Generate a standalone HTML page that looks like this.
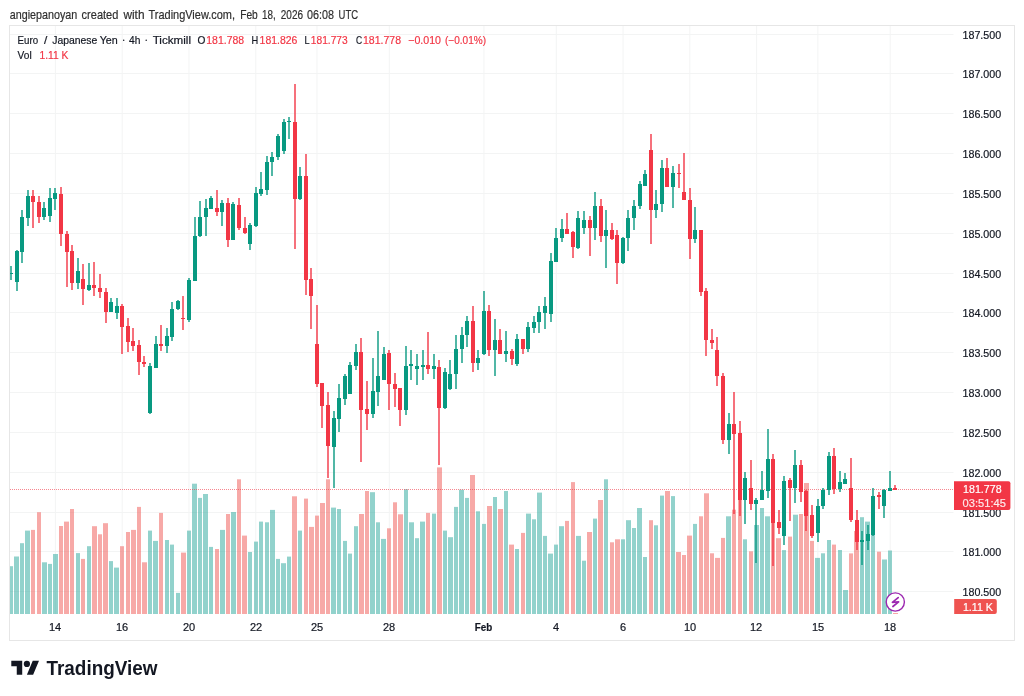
<!DOCTYPE html>
<html><head><meta charset="utf-8">
<style>
html,body{margin:0;padding:0;background:#fff;}
body{width:1024px;height:696px;position:relative;overflow:hidden;font-family:"Liberation Sans", sans-serif;}
svg{position:absolute;left:0;top:0;font-family:"Liberation Sans", sans-serif;will-change:transform;filter:blur(0.35px);}
</style></head><body>
<svg width="1024" height="696" viewBox="0 0 1024 696">
<line x1="10" y1="34.50" x2="953.5" y2="34.50" stroke="#f3f4f4" stroke-width="1"/>
<line x1="10" y1="73.50" x2="953.5" y2="73.50" stroke="#f3f4f4" stroke-width="1"/>
<line x1="10" y1="113.50" x2="953.5" y2="113.50" stroke="#f3f4f4" stroke-width="1"/>
<line x1="10" y1="153.50" x2="953.5" y2="153.50" stroke="#f3f4f4" stroke-width="1"/>
<line x1="10" y1="193.50" x2="953.5" y2="193.50" stroke="#f3f4f4" stroke-width="1"/>
<line x1="10" y1="233.50" x2="953.5" y2="233.50" stroke="#f3f4f4" stroke-width="1"/>
<line x1="10" y1="273.50" x2="953.5" y2="273.50" stroke="#f3f4f4" stroke-width="1"/>
<line x1="10" y1="312.50" x2="953.5" y2="312.50" stroke="#f3f4f4" stroke-width="1"/>
<line x1="10" y1="352.50" x2="953.5" y2="352.50" stroke="#f3f4f4" stroke-width="1"/>
<line x1="10" y1="392.50" x2="953.5" y2="392.50" stroke="#f3f4f4" stroke-width="1"/>
<line x1="10" y1="432.50" x2="953.5" y2="432.50" stroke="#f3f4f4" stroke-width="1"/>
<line x1="10" y1="472.50" x2="953.5" y2="472.50" stroke="#f3f4f4" stroke-width="1"/>
<line x1="10" y1="512.50" x2="953.5" y2="512.50" stroke="#f3f4f4" stroke-width="1"/>
<line x1="10" y1="551.50" x2="953.5" y2="551.50" stroke="#f3f4f4" stroke-width="1"/>
<line x1="10" y1="591.50" x2="953.5" y2="591.50" stroke="#f3f4f4" stroke-width="1"/>
<line x1="55.40" y1="25.5" x2="55.40" y2="614.25" stroke="#f3f4f4" stroke-width="1"/>
<line x1="122.18" y1="25.5" x2="122.18" y2="614.25" stroke="#f3f4f4" stroke-width="1"/>
<line x1="188.97" y1="25.5" x2="188.97" y2="614.25" stroke="#f3f4f4" stroke-width="1"/>
<line x1="255.75" y1="25.5" x2="255.75" y2="614.25" stroke="#f3f4f4" stroke-width="1"/>
<line x1="316.97" y1="25.5" x2="316.97" y2="614.25" stroke="#f3f4f4" stroke-width="1"/>
<line x1="389.32" y1="25.5" x2="389.32" y2="614.25" stroke="#f3f4f4" stroke-width="1"/>
<line x1="483.93" y1="25.5" x2="483.93" y2="614.25" stroke="#f3f4f4" stroke-width="1"/>
<line x1="556.28" y1="25.5" x2="556.28" y2="614.25" stroke="#f3f4f4" stroke-width="1"/>
<line x1="623.06" y1="25.5" x2="623.06" y2="614.25" stroke="#f3f4f4" stroke-width="1"/>
<line x1="689.84" y1="25.5" x2="689.84" y2="614.25" stroke="#f3f4f4" stroke-width="1"/>
<line x1="756.63" y1="25.5" x2="756.63" y2="614.25" stroke="#f3f4f4" stroke-width="1"/>
<line x1="817.85" y1="25.5" x2="817.85" y2="614.25" stroke="#f3f4f4" stroke-width="1"/>
<line x1="890.19" y1="25.5" x2="890.19" y2="614.25" stroke="#f3f4f4" stroke-width="1"/>
<rect x="10.00" y="566.20" width="3.00" height="47.80" fill="rgba(38,166,154,0.5)"/>
<rect x="14.00" y="556.50" width="5.00" height="57.50" fill="rgba(38,166,154,0.5)"/>
<rect x="20.00" y="543.20" width="4.00" height="70.80" fill="rgba(38,166,154,0.5)"/>
<rect x="25.00" y="530.60" width="5.00" height="83.40" fill="rgba(38,166,154,0.5)"/>
<rect x="31.00" y="529.90" width="4.00" height="84.10" fill="rgba(239,83,80,0.5)"/>
<rect x="37.00" y="512.20" width="4.00" height="101.80" fill="rgba(239,83,80,0.5)"/>
<rect x="42.00" y="562.30" width="5.00" height="51.70" fill="rgba(38,166,154,0.5)"/>
<rect x="48.00" y="563.90" width="4.00" height="50.10" fill="rgba(38,166,154,0.5)"/>
<rect x="53.00" y="554.00" width="5.00" height="60.00" fill="rgba(38,166,154,0.5)"/>
<rect x="59.00" y="526.00" width="4.00" height="88.00" fill="rgba(239,83,80,0.5)"/>
<rect x="64.00" y="521.60" width="5.00" height="92.40" fill="rgba(239,83,80,0.5)"/>
<rect x="70.00" y="509.00" width="4.00" height="105.00" fill="rgba(239,83,80,0.5)"/>
<rect x="76.00" y="553.10" width="4.00" height="60.90" fill="rgba(38,166,154,0.5)"/>
<rect x="81.00" y="558.90" width="4.00" height="55.10" fill="rgba(239,83,80,0.5)"/>
<rect x="87.00" y="546.20" width="4.00" height="67.80" fill="rgba(38,166,154,0.5)"/>
<rect x="92.00" y="526.20" width="5.00" height="87.80" fill="rgba(239,83,80,0.5)"/>
<rect x="98.00" y="534.30" width="4.00" height="79.70" fill="rgba(239,83,80,0.5)"/>
<rect x="103.00" y="523.20" width="5.00" height="90.80" fill="rgba(239,83,80,0.5)"/>
<rect x="109.00" y="561.10" width="4.00" height="52.90" fill="rgba(38,166,154,0.5)"/>
<rect x="114.00" y="567.60" width="5.00" height="46.40" fill="rgba(38,166,154,0.5)"/>
<rect x="120.00" y="546.20" width="4.00" height="67.80" fill="rgba(239,83,80,0.5)"/>
<rect x="126.00" y="532.00" width="4.00" height="82.00" fill="rgba(239,83,80,0.5)"/>
<rect x="131.00" y="529.90" width="5.00" height="84.10" fill="rgba(239,83,80,0.5)"/>
<rect x="137.00" y="506.90" width="4.00" height="107.10" fill="rgba(239,83,80,0.5)"/>
<rect x="142.00" y="562.30" width="5.00" height="51.70" fill="rgba(239,83,80,0.5)"/>
<rect x="148.00" y="530.60" width="4.00" height="83.40" fill="rgba(38,166,154,0.5)"/>
<rect x="153.00" y="540.90" width="5.00" height="73.10" fill="rgba(38,166,154,0.5)"/>
<rect x="159.00" y="512.90" width="4.00" height="101.10" fill="rgba(239,83,80,0.5)"/>
<rect x="165.00" y="540.00" width="4.00" height="74.00" fill="rgba(38,166,154,0.5)"/>
<rect x="170.00" y="544.60" width="4.00" height="69.40" fill="rgba(38,166,154,0.5)"/>
<rect x="176.00" y="592.90" width="4.00" height="21.10" fill="rgba(38,166,154,0.5)"/>
<rect x="181.00" y="552.60" width="5.00" height="61.40" fill="rgba(239,83,80,0.5)"/>
<rect x="187.00" y="530.60" width="4.00" height="83.40" fill="rgba(38,166,154,0.5)"/>
<rect x="192.00" y="483.70" width="5.00" height="130.30" fill="rgba(38,166,154,0.5)"/>
<rect x="198.00" y="497.90" width="4.00" height="116.10" fill="rgba(38,166,154,0.5)"/>
<rect x="203.00" y="494.00" width="5.00" height="120.00" fill="rgba(38,166,154,0.5)"/>
<rect x="209.00" y="546.90" width="4.00" height="67.10" fill="rgba(38,166,154,0.5)"/>
<rect x="215.00" y="549.00" width="4.00" height="65.00" fill="rgba(239,83,80,0.5)"/>
<rect x="220.00" y="529.90" width="5.00" height="84.10" fill="rgba(38,166,154,0.5)"/>
<rect x="226.00" y="514.00" width="4.00" height="100.00" fill="rgba(239,83,80,0.5)"/>
<rect x="231.00" y="512.00" width="5.00" height="102.00" fill="rgba(38,166,154,0.5)"/>
<rect x="237.00" y="479.30" width="4.00" height="134.70" fill="rgba(239,83,80,0.5)"/>
<rect x="242.00" y="535.60" width="5.00" height="78.40" fill="rgba(239,83,80,0.5)"/>
<rect x="248.00" y="552.00" width="4.00" height="62.00" fill="rgba(38,166,154,0.5)"/>
<rect x="254.00" y="541.60" width="4.00" height="72.40" fill="rgba(38,166,154,0.5)"/>
<rect x="259.00" y="521.60" width="4.00" height="92.40" fill="rgba(38,166,154,0.5)"/>
<rect x="265.00" y="522.30" width="4.00" height="91.70" fill="rgba(38,166,154,0.5)"/>
<rect x="270.00" y="509.90" width="5.00" height="104.10" fill="rgba(38,166,154,0.5)"/>
<rect x="276.00" y="558.90" width="4.00" height="55.10" fill="rgba(38,166,154,0.5)"/>
<rect x="281.00" y="563.20" width="5.00" height="50.80" fill="rgba(38,166,154,0.5)"/>
<rect x="287.00" y="556.60" width="4.00" height="57.40" fill="rgba(38,166,154,0.5)"/>
<rect x="292.00" y="496.30" width="5.00" height="117.70" fill="rgba(239,83,80,0.5)"/>
<rect x="298.00" y="530.60" width="4.00" height="83.40" fill="rgba(38,166,154,0.5)"/>
<rect x="304.00" y="498.60" width="4.00" height="115.40" fill="rgba(239,83,80,0.5)"/>
<rect x="309.00" y="526.90" width="5.00" height="87.10" fill="rgba(239,83,80,0.5)"/>
<rect x="315.00" y="515.60" width="4.00" height="98.40" fill="rgba(239,83,80,0.5)"/>
<rect x="320.00" y="503.00" width="5.00" height="111.00" fill="rgba(239,83,80,0.5)"/>
<rect x="326.00" y="479.30" width="4.00" height="134.70" fill="rgba(239,83,80,0.5)"/>
<rect x="331.00" y="507.60" width="5.00" height="106.40" fill="rgba(38,166,154,0.5)"/>
<rect x="337.00" y="509.00" width="4.00" height="105.00" fill="rgba(38,166,154,0.5)"/>
<rect x="343.00" y="540.90" width="4.00" height="73.10" fill="rgba(38,166,154,0.5)"/>
<rect x="348.00" y="553.60" width="4.00" height="60.40" fill="rgba(38,166,154,0.5)"/>
<rect x="354.00" y="526.20" width="4.00" height="87.80" fill="rgba(38,166,154,0.5)"/>
<rect x="359.00" y="514.00" width="5.00" height="100.00" fill="rgba(239,83,80,0.5)"/>
<rect x="365.00" y="491.00" width="4.00" height="123.00" fill="rgba(239,83,80,0.5)"/>
<rect x="370.00" y="492.20" width="5.00" height="121.80" fill="rgba(38,166,154,0.5)"/>
<rect x="376.00" y="522.30" width="4.00" height="91.70" fill="rgba(38,166,154,0.5)"/>
<rect x="381.00" y="538.90" width="5.00" height="75.10" fill="rgba(38,166,154,0.5)"/>
<rect x="387.00" y="528.30" width="4.00" height="85.70" fill="rgba(239,83,80,0.5)"/>
<rect x="393.00" y="502.30" width="4.00" height="111.70" fill="rgba(239,83,80,0.5)"/>
<rect x="398.00" y="514.30" width="5.00" height="99.70" fill="rgba(239,83,80,0.5)"/>
<rect x="404.00" y="489.20" width="4.00" height="124.80" fill="rgba(38,166,154,0.5)"/>
<rect x="409.00" y="522.30" width="5.00" height="91.70" fill="rgba(38,166,154,0.5)"/>
<rect x="415.00" y="538.20" width="4.00" height="75.80" fill="rgba(38,166,154,0.5)"/>
<rect x="420.00" y="521.60" width="5.00" height="92.40" fill="rgba(38,166,154,0.5)"/>
<rect x="426.00" y="512.90" width="4.00" height="101.10" fill="rgba(239,83,80,0.5)"/>
<rect x="432.00" y="513.60" width="4.00" height="100.40" fill="rgba(38,166,154,0.5)"/>
<rect x="437.00" y="467.40" width="5.00" height="146.60" fill="rgba(239,83,80,0.5)"/>
<rect x="443.00" y="530.60" width="4.00" height="83.40" fill="rgba(38,166,154,0.5)"/>
<rect x="448.00" y="537.20" width="5.00" height="76.80" fill="rgba(38,166,154,0.5)"/>
<rect x="454.00" y="506.90" width="4.00" height="107.10" fill="rgba(38,166,154,0.5)"/>
<rect x="459.00" y="489.70" width="5.00" height="124.30" fill="rgba(38,166,154,0.5)"/>
<rect x="465.00" y="497.90" width="4.00" height="116.10" fill="rgba(38,166,154,0.5)"/>
<rect x="470.00" y="475.00" width="5.00" height="139.00" fill="rgba(239,83,80,0.5)"/>
<rect x="476.00" y="511.30" width="4.00" height="102.70" fill="rgba(38,166,154,0.5)"/>
<rect x="482.00" y="523.90" width="4.00" height="90.10" fill="rgba(38,166,154,0.5)"/>
<rect x="487.00" y="506.00" width="5.00" height="108.00" fill="rgba(239,83,80,0.5)"/>
<rect x="493.00" y="497.00" width="4.00" height="117.00" fill="rgba(38,166,154,0.5)"/>
<rect x="498.00" y="509.00" width="5.00" height="105.00" fill="rgba(239,83,80,0.5)"/>
<rect x="504.00" y="491.00" width="4.00" height="123.00" fill="rgba(38,166,154,0.5)"/>
<rect x="509.00" y="544.60" width="5.00" height="69.40" fill="rgba(239,83,80,0.5)"/>
<rect x="515.00" y="549.00" width="4.00" height="65.00" fill="rgba(38,166,154,0.5)"/>
<rect x="521.00" y="532.90" width="4.00" height="81.10" fill="rgba(239,83,80,0.5)"/>
<rect x="526.00" y="513.60" width="5.00" height="100.40" fill="rgba(38,166,154,0.5)"/>
<rect x="532.00" y="519.30" width="4.00" height="94.70" fill="rgba(38,166,154,0.5)"/>
<rect x="537.00" y="492.60" width="5.00" height="121.40" fill="rgba(38,166,154,0.5)"/>
<rect x="543.00" y="535.90" width="4.00" height="78.10" fill="rgba(38,166,154,0.5)"/>
<rect x="548.00" y="553.60" width="5.00" height="60.40" fill="rgba(38,166,154,0.5)"/>
<rect x="554.00" y="544.60" width="4.00" height="69.40" fill="rgba(38,166,154,0.5)"/>
<rect x="559.00" y="526.20" width="5.00" height="87.80" fill="rgba(38,166,154,0.5)"/>
<rect x="565.00" y="520.90" width="4.00" height="93.10" fill="rgba(239,83,80,0.5)"/>
<rect x="571.00" y="482.10" width="4.00" height="131.90" fill="rgba(239,83,80,0.5)"/>
<rect x="576.00" y="535.90" width="5.00" height="78.10" fill="rgba(38,166,154,0.5)"/>
<rect x="582.00" y="560.70" width="4.00" height="53.30" fill="rgba(38,166,154,0.5)"/>
<rect x="587.00" y="532.00" width="5.00" height="82.00" fill="rgba(239,83,80,0.5)"/>
<rect x="593.00" y="518.60" width="4.00" height="95.40" fill="rgba(38,166,154,0.5)"/>
<rect x="598.00" y="500.00" width="5.00" height="114.00" fill="rgba(239,83,80,0.5)"/>
<rect x="604.00" y="479.30" width="4.00" height="134.70" fill="rgba(38,166,154,0.5)"/>
<rect x="610.00" y="542.30" width="4.00" height="71.70" fill="rgba(239,83,80,0.5)"/>
<rect x="615.00" y="539.30" width="5.00" height="74.70" fill="rgba(239,83,80,0.5)"/>
<rect x="621.00" y="539.30" width="4.00" height="74.70" fill="rgba(38,166,154,0.5)"/>
<rect x="626.00" y="520.20" width="5.00" height="93.80" fill="rgba(38,166,154,0.5)"/>
<rect x="632.00" y="528.00" width="4.00" height="86.00" fill="rgba(38,166,154,0.5)"/>
<rect x="637.00" y="508.00" width="5.00" height="106.00" fill="rgba(38,166,154,0.5)"/>
<rect x="643.00" y="557.00" width="4.00" height="57.00" fill="rgba(38,166,154,0.5)"/>
<rect x="649.00" y="520.20" width="4.00" height="93.80" fill="rgba(239,83,80,0.5)"/>
<rect x="654.00" y="525.30" width="4.00" height="88.70" fill="rgba(38,166,154,0.5)"/>
<rect x="660.00" y="495.60" width="4.00" height="118.40" fill="rgba(38,166,154,0.5)"/>
<rect x="665.00" y="491.00" width="5.00" height="123.00" fill="rgba(239,83,80,0.5)"/>
<rect x="671.00" y="496.10" width="4.00" height="117.90" fill="rgba(38,166,154,0.5)"/>
<rect x="676.00" y="552.00" width="5.00" height="62.00" fill="rgba(239,83,80,0.5)"/>
<rect x="682.00" y="555.00" width="4.00" height="59.00" fill="rgba(239,83,80,0.5)"/>
<rect x="687.00" y="535.60" width="5.00" height="78.40" fill="rgba(239,83,80,0.5)"/>
<rect x="693.00" y="523.90" width="4.00" height="90.10" fill="rgba(38,166,154,0.5)"/>
<rect x="699.00" y="516.30" width="4.00" height="97.70" fill="rgba(239,83,80,0.5)"/>
<rect x="704.00" y="493.30" width="5.00" height="120.70" fill="rgba(239,83,80,0.5)"/>
<rect x="710.00" y="553.30" width="4.00" height="60.70" fill="rgba(239,83,80,0.5)"/>
<rect x="715.00" y="557.90" width="5.00" height="56.10" fill="rgba(239,83,80,0.5)"/>
<rect x="721.00" y="537.90" width="4.00" height="76.10" fill="rgba(239,83,80,0.5)"/>
<rect x="726.00" y="516.30" width="5.00" height="97.70" fill="rgba(38,166,154,0.5)"/>
<rect x="732.00" y="509.70" width="4.00" height="104.30" fill="rgba(239,83,80,0.5)"/>
<rect x="738.00" y="480.20" width="4.00" height="133.80" fill="rgba(239,83,80,0.5)"/>
<rect x="743.00" y="539.30" width="4.00" height="74.70" fill="rgba(38,166,154,0.5)"/>
<rect x="749.00" y="551.30" width="4.00" height="62.70" fill="rgba(239,83,80,0.5)"/>
<rect x="754.00" y="525.00" width="5.00" height="89.00" fill="rgba(38,166,154,0.5)"/>
<rect x="760.00" y="508.00" width="4.00" height="106.00" fill="rgba(38,166,154,0.5)"/>
<rect x="765.00" y="516.30" width="5.00" height="97.70" fill="rgba(38,166,154,0.5)"/>
<rect x="771.00" y="481.00" width="4.00" height="133.00" fill="rgba(239,83,80,0.5)"/>
<rect x="776.00" y="538.20" width="5.00" height="75.80" fill="rgba(239,83,80,0.5)"/>
<rect x="782.00" y="550.10" width="4.00" height="63.90" fill="rgba(38,166,154,0.5)"/>
<rect x="788.00" y="536.60" width="4.00" height="77.40" fill="rgba(239,83,80,0.5)"/>
<rect x="793.00" y="514.70" width="5.00" height="99.30" fill="rgba(38,166,154,0.5)"/>
<rect x="799.00" y="514.00" width="4.00" height="100.00" fill="rgba(239,83,80,0.5)"/>
<rect x="804.00" y="483.00" width="5.00" height="131.00" fill="rgba(239,83,80,0.5)"/>
<rect x="810.00" y="540.90" width="4.00" height="73.10" fill="rgba(239,83,80,0.5)"/>
<rect x="815.00" y="557.90" width="5.00" height="56.10" fill="rgba(38,166,154,0.5)"/>
<rect x="821.00" y="553.30" width="4.00" height="60.70" fill="rgba(38,166,154,0.5)"/>
<rect x="827.00" y="540.00" width="4.00" height="74.00" fill="rgba(38,166,154,0.5)"/>
<rect x="832.00" y="544.60" width="4.00" height="69.40" fill="rgba(239,83,80,0.5)"/>
<rect x="838.00" y="550.00" width="4.00" height="64.00" fill="rgba(38,166,154,0.5)"/>
<rect x="843.00" y="590.00" width="5.00" height="24.00" fill="rgba(38,166,154,0.5)"/>
<rect x="849.00" y="553.40" width="4.00" height="60.60" fill="rgba(239,83,80,0.5)"/>
<rect x="854.00" y="531.00" width="5.00" height="83.00" fill="rgba(239,83,80,0.5)"/>
<rect x="860.00" y="517.20" width="4.00" height="96.80" fill="rgba(38,166,154,0.5)"/>
<rect x="865.00" y="521.60" width="5.00" height="92.40" fill="rgba(38,166,154,0.5)"/>
<rect x="871.00" y="530.00" width="4.00" height="84.00" fill="rgba(38,166,154,0.5)"/>
<rect x="877.00" y="551.70" width="4.00" height="62.30" fill="rgba(239,83,80,0.5)"/>
<rect x="882.00" y="559.50" width="5.00" height="54.50" fill="rgba(38,166,154,0.5)"/>
<rect x="888.00" y="550.50" width="4.00" height="63.50" fill="rgba(38,166,154,0.5)"/>
<rect x="893.00" y="613.00" width="5.00" height="1.00" fill="rgba(239,83,80,0.5)"/>
<line x1="10" y1="489.5" x2="954" y2="489.5" stroke="#f23645" stroke-width="1" stroke-dasharray="1 1" stroke-opacity="0.6"/>
<rect x="10.30" y="266" width="1.4" height="14" fill="#089981"/>
<rect x="10.00" y="273" width="3.00" height="1" fill="#089981"/>
<rect x="16.30" y="250" width="1.4" height="41" fill="#089981"/>
<rect x="15.00" y="251" width="4.00" height="31" fill="#089981"/>
<rect x="21.30" y="210" width="1.4" height="53" fill="#089981"/>
<rect x="20.00" y="217" width="4.00" height="35" fill="#089981"/>
<rect x="27.30" y="190" width="1.4" height="36" fill="#089981"/>
<rect x="26.00" y="196" width="4.00" height="22" fill="#089981"/>
<rect x="32.30" y="190" width="1.4" height="38" fill="#f23645"/>
<rect x="31.00" y="196" width="4.00" height="6" fill="#f23645"/>
<rect x="38.30" y="196" width="1.4" height="27" fill="#f23645"/>
<rect x="37.00" y="202" width="4.00" height="15" fill="#f23645"/>
<rect x="43.30" y="202" width="1.4" height="18" fill="#089981"/>
<rect x="42.00" y="208" width="4.00" height="9" fill="#089981"/>
<rect x="49.30" y="188" width="1.4" height="34" fill="#089981"/>
<rect x="48.00" y="198" width="4.00" height="18" fill="#089981"/>
<rect x="54.30" y="188" width="1.4" height="22" fill="#089981"/>
<rect x="53.00" y="193" width="4.00" height="6" fill="#089981"/>
<rect x="60.30" y="187" width="1.4" height="59" fill="#f23645"/>
<rect x="59.00" y="194" width="4.00" height="40" fill="#f23645"/>
<rect x="66.30" y="231" width="1.4" height="56" fill="#f23645"/>
<rect x="65.00" y="234" width="4.00" height="18" fill="#f23645"/>
<rect x="71.30" y="245" width="1.4" height="45" fill="#f23645"/>
<rect x="70.00" y="251" width="4.00" height="32" fill="#f23645"/>
<rect x="77.30" y="258" width="1.4" height="31" fill="#089981"/>
<rect x="76.00" y="271" width="4.00" height="12" fill="#089981"/>
<rect x="82.30" y="264" width="1.4" height="41" fill="#f23645"/>
<rect x="81.00" y="279" width="4.00" height="10" fill="#f23645"/>
<rect x="88.30" y="263" width="1.4" height="28" fill="#089981"/>
<rect x="87.00" y="285" width="4.00" height="5" fill="#089981"/>
<rect x="93.30" y="262" width="1.4" height="34" fill="#f23645"/>
<rect x="92.00" y="285" width="4.00" height="3" fill="#f23645"/>
<rect x="99.30" y="274" width="1.4" height="24" fill="#f23645"/>
<rect x="98.00" y="288" width="4.00" height="4" fill="#f23645"/>
<rect x="105.30" y="288" width="1.4" height="35" fill="#f23645"/>
<rect x="104.00" y="292" width="4.00" height="20" fill="#f23645"/>
<rect x="110.30" y="298" width="1.4" height="14" fill="#089981"/>
<rect x="109.00" y="302" width="4.00" height="10" fill="#089981"/>
<rect x="116.30" y="298" width="1.4" height="21" fill="#089981"/>
<rect x="115.00" y="306" width="4.00" height="7" fill="#089981"/>
<rect x="121.30" y="304" width="1.4" height="50" fill="#f23645"/>
<rect x="120.00" y="306" width="4.00" height="21" fill="#f23645"/>
<rect x="127.30" y="318" width="1.4" height="34" fill="#f23645"/>
<rect x="126.00" y="326" width="4.00" height="16" fill="#f23645"/>
<rect x="132.30" y="328" width="1.4" height="23" fill="#f23645"/>
<rect x="131.00" y="341" width="4.00" height="5" fill="#f23645"/>
<rect x="138.30" y="340" width="1.4" height="35" fill="#f23645"/>
<rect x="137.00" y="345" width="4.00" height="17" fill="#f23645"/>
<rect x="143.30" y="356" width="1.4" height="11" fill="#f23645"/>
<rect x="142.00" y="362" width="4.00" height="2" fill="#f23645"/>
<rect x="149.30" y="363" width="1.4" height="51" fill="#089981"/>
<rect x="148.00" y="366" width="4.00" height="47" fill="#089981"/>
<rect x="155.30" y="336" width="1.4" height="32" fill="#089981"/>
<rect x="154.00" y="344" width="4.00" height="24" fill="#089981"/>
<rect x="160.30" y="325" width="1.4" height="26" fill="#f23645"/>
<rect x="159.00" y="344" width="4.00" height="2" fill="#f23645"/>
<rect x="166.30" y="328" width="1.4" height="25" fill="#089981"/>
<rect x="165.00" y="336" width="4.00" height="10" fill="#089981"/>
<rect x="171.30" y="302" width="1.4" height="39" fill="#089981"/>
<rect x="170.00" y="309" width="4.00" height="28" fill="#089981"/>
<rect x="177.30" y="300" width="1.4" height="10" fill="#089981"/>
<rect x="176.00" y="301" width="4.00" height="8" fill="#089981"/>
<rect x="182.30" y="296" width="1.4" height="34" fill="#f23645"/>
<rect x="181.00" y="318" width="4.00" height="1" fill="#f23645"/>
<rect x="188.30" y="278" width="1.4" height="44" fill="#089981"/>
<rect x="187.00" y="280" width="4.00" height="40" fill="#089981"/>
<rect x="194.30" y="217" width="1.4" height="64" fill="#089981"/>
<rect x="193.00" y="236" width="4.00" height="45" fill="#089981"/>
<rect x="199.30" y="201" width="1.4" height="36" fill="#089981"/>
<rect x="198.00" y="217" width="4.00" height="19" fill="#089981"/>
<rect x="205.30" y="199" width="1.4" height="37" fill="#089981"/>
<rect x="204.00" y="208" width="4.00" height="9" fill="#089981"/>
<rect x="210.30" y="196" width="1.4" height="13" fill="#089981"/>
<rect x="209.00" y="198" width="4.00" height="11" fill="#089981"/>
<rect x="216.30" y="190" width="1.4" height="26" fill="#f23645"/>
<rect x="215.00" y="208" width="4.00" height="4" fill="#f23645"/>
<rect x="221.30" y="200" width="1.4" height="26" fill="#089981"/>
<rect x="220.00" y="203" width="4.00" height="9" fill="#089981"/>
<rect x="227.30" y="198" width="1.4" height="49" fill="#f23645"/>
<rect x="226.00" y="203" width="4.00" height="37" fill="#f23645"/>
<rect x="232.30" y="202" width="1.4" height="38" fill="#089981"/>
<rect x="231.00" y="204" width="4.00" height="36" fill="#089981"/>
<rect x="238.30" y="198" width="1.4" height="32" fill="#f23645"/>
<rect x="237.00" y="205" width="4.00" height="23" fill="#f23645"/>
<rect x="244.30" y="217" width="1.4" height="17" fill="#f23645"/>
<rect x="243.00" y="228" width="4.00" height="5" fill="#f23645"/>
<rect x="249.30" y="223" width="1.4" height="27" fill="#089981"/>
<rect x="248.00" y="225" width="4.00" height="19" fill="#089981"/>
<rect x="255.30" y="187" width="1.4" height="40" fill="#089981"/>
<rect x="254.00" y="193" width="4.00" height="33" fill="#089981"/>
<rect x="260.30" y="172" width="1.4" height="24" fill="#089981"/>
<rect x="259.00" y="189" width="4.00" height="5" fill="#089981"/>
<rect x="266.30" y="156" width="1.4" height="39" fill="#089981"/>
<rect x="265.00" y="162" width="4.00" height="28" fill="#089981"/>
<rect x="271.30" y="152" width="1.4" height="24" fill="#089981"/>
<rect x="270.00" y="157" width="4.00" height="5" fill="#089981"/>
<rect x="277.30" y="134" width="1.4" height="26" fill="#089981"/>
<rect x="276.00" y="136" width="4.00" height="21" fill="#089981"/>
<rect x="283.30" y="119" width="1.4" height="35" fill="#089981"/>
<rect x="282.00" y="122" width="4.00" height="29" fill="#089981"/>
<rect x="288.30" y="117" width="1.4" height="22" fill="#089981"/>
<rect x="287.00" y="121" width="4.00" height="1" fill="#089981"/>
<rect x="294.30" y="84" width="1.4" height="165" fill="#f23645"/>
<rect x="293.00" y="122" width="4.00" height="77" fill="#f23645"/>
<rect x="299.30" y="167" width="1.4" height="33" fill="#089981"/>
<rect x="298.00" y="176" width="4.00" height="23" fill="#089981"/>
<rect x="305.30" y="154" width="1.4" height="141" fill="#f23645"/>
<rect x="304.00" y="176" width="4.00" height="104" fill="#f23645"/>
<rect x="310.30" y="268" width="1.4" height="61" fill="#f23645"/>
<rect x="309.00" y="279" width="4.00" height="17" fill="#f23645"/>
<rect x="316.30" y="305" width="1.4" height="82" fill="#f23645"/>
<rect x="315.00" y="344" width="4.00" height="40" fill="#f23645"/>
<rect x="321.30" y="383" width="1.4" height="45" fill="#f23645"/>
<rect x="320.00" y="383" width="4.00" height="23" fill="#f23645"/>
<rect x="327.30" y="392" width="1.4" height="86" fill="#f23645"/>
<rect x="326.00" y="405" width="4.00" height="41" fill="#f23645"/>
<rect x="333.30" y="411" width="1.4" height="77" fill="#089981"/>
<rect x="332.00" y="418" width="4.00" height="29" fill="#089981"/>
<rect x="338.30" y="384" width="1.4" height="48" fill="#089981"/>
<rect x="337.00" y="398" width="4.00" height="21" fill="#089981"/>
<rect x="344.30" y="374" width="1.4" height="31" fill="#089981"/>
<rect x="343.00" y="376" width="4.00" height="23" fill="#089981"/>
<rect x="349.30" y="362" width="1.4" height="32" fill="#089981"/>
<rect x="348.00" y="365" width="4.00" height="29" fill="#089981"/>
<rect x="355.30" y="344" width="1.4" height="26" fill="#089981"/>
<rect x="354.00" y="352" width="4.00" height="14" fill="#089981"/>
<rect x="360.30" y="338" width="1.4" height="124" fill="#f23645"/>
<rect x="359.00" y="352" width="4.00" height="58" fill="#f23645"/>
<rect x="366.30" y="381" width="1.4" height="49" fill="#f23645"/>
<rect x="365.00" y="409" width="4.00" height="5" fill="#f23645"/>
<rect x="372.30" y="358" width="1.4" height="60" fill="#089981"/>
<rect x="371.00" y="391" width="4.00" height="23" fill="#089981"/>
<rect x="377.30" y="331" width="1.4" height="75" fill="#089981"/>
<rect x="376.00" y="376" width="4.00" height="16" fill="#089981"/>
<rect x="383.30" y="347" width="1.4" height="33" fill="#089981"/>
<rect x="382.00" y="354" width="4.00" height="26" fill="#089981"/>
<rect x="388.30" y="350" width="1.4" height="60" fill="#f23645"/>
<rect x="387.00" y="353" width="4.00" height="31" fill="#f23645"/>
<rect x="394.30" y="373" width="1.4" height="34" fill="#f23645"/>
<rect x="393.00" y="384" width="4.00" height="5" fill="#f23645"/>
<rect x="399.30" y="388" width="1.4" height="38" fill="#f23645"/>
<rect x="398.00" y="388" width="4.00" height="22" fill="#f23645"/>
<rect x="405.30" y="346" width="1.4" height="69" fill="#089981"/>
<rect x="404.00" y="366" width="4.00" height="44" fill="#089981"/>
<rect x="410.30" y="350" width="1.4" height="30" fill="#089981"/>
<rect x="409.00" y="364" width="4.00" height="2" fill="#089981"/>
<rect x="416.30" y="354" width="1.4" height="31" fill="#089981"/>
<rect x="415.00" y="366" width="4.00" height="3" fill="#089981"/>
<rect x="422.30" y="350" width="1.4" height="30" fill="#089981"/>
<rect x="421.00" y="365" width="4.00" height="2" fill="#089981"/>
<rect x="427.30" y="332" width="1.4" height="42" fill="#f23645"/>
<rect x="426.00" y="365" width="4.00" height="4" fill="#f23645"/>
<rect x="433.30" y="354" width="1.4" height="25" fill="#089981"/>
<rect x="432.00" y="366" width="4.00" height="3" fill="#089981"/>
<rect x="438.30" y="360" width="1.4" height="105" fill="#f23645"/>
<rect x="437.00" y="367" width="4.00" height="41" fill="#f23645"/>
<rect x="444.30" y="368" width="1.4" height="41" fill="#089981"/>
<rect x="443.00" y="372" width="4.00" height="36" fill="#089981"/>
<rect x="449.30" y="360" width="1.4" height="30" fill="#089981"/>
<rect x="448.00" y="374" width="4.00" height="15" fill="#089981"/>
<rect x="455.30" y="335" width="1.4" height="54" fill="#089981"/>
<rect x="454.00" y="349" width="4.00" height="25" fill="#089981"/>
<rect x="461.30" y="327" width="1.4" height="36" fill="#089981"/>
<rect x="460.00" y="335" width="4.00" height="14" fill="#089981"/>
<rect x="466.30" y="316" width="1.4" height="31" fill="#089981"/>
<rect x="465.00" y="321" width="4.00" height="14" fill="#089981"/>
<rect x="472.30" y="306" width="1.4" height="66" fill="#f23645"/>
<rect x="471.00" y="321" width="4.00" height="42" fill="#f23645"/>
<rect x="477.30" y="350" width="1.4" height="20" fill="#089981"/>
<rect x="476.00" y="358" width="4.00" height="5" fill="#089981"/>
<rect x="483.30" y="291" width="1.4" height="64" fill="#089981"/>
<rect x="482.00" y="311" width="4.00" height="43" fill="#089981"/>
<rect x="488.30" y="305" width="1.4" height="51" fill="#f23645"/>
<rect x="487.00" y="311" width="4.00" height="39" fill="#f23645"/>
<rect x="494.30" y="319" width="1.4" height="57" fill="#089981"/>
<rect x="493.00" y="340" width="4.00" height="10" fill="#089981"/>
<rect x="499.30" y="329" width="1.4" height="25" fill="#f23645"/>
<rect x="498.00" y="340" width="4.00" height="14" fill="#f23645"/>
<rect x="505.30" y="331" width="1.4" height="31" fill="#089981"/>
<rect x="504.00" y="351" width="4.00" height="3" fill="#089981"/>
<rect x="511.30" y="349" width="1.4" height="16" fill="#f23645"/>
<rect x="510.00" y="351" width="4.00" height="8" fill="#f23645"/>
<rect x="516.30" y="334" width="1.4" height="32" fill="#089981"/>
<rect x="515.00" y="339" width="4.00" height="25" fill="#089981"/>
<rect x="522.30" y="339" width="1.4" height="15" fill="#f23645"/>
<rect x="521.00" y="339" width="4.00" height="10" fill="#f23645"/>
<rect x="527.30" y="322" width="1.4" height="30" fill="#089981"/>
<rect x="526.00" y="327" width="4.00" height="22" fill="#089981"/>
<rect x="533.30" y="316" width="1.4" height="17" fill="#089981"/>
<rect x="532.00" y="322" width="4.00" height="6" fill="#089981"/>
<rect x="538.30" y="306" width="1.4" height="27" fill="#089981"/>
<rect x="537.00" y="312" width="4.00" height="10" fill="#089981"/>
<rect x="544.30" y="297" width="1.4" height="32" fill="#089981"/>
<rect x="543.00" y="306" width="4.00" height="7" fill="#089981"/>
<rect x="550.30" y="253" width="1.4" height="69" fill="#089981"/>
<rect x="549.00" y="261" width="4.00" height="53" fill="#089981"/>
<rect x="555.30" y="228" width="1.4" height="34" fill="#089981"/>
<rect x="554.00" y="238" width="4.00" height="24" fill="#089981"/>
<rect x="561.30" y="219" width="1.4" height="23" fill="#089981"/>
<rect x="560.00" y="229" width="4.00" height="9" fill="#089981"/>
<rect x="566.30" y="213" width="1.4" height="21" fill="#f23645"/>
<rect x="565.00" y="229" width="4.00" height="5" fill="#f23645"/>
<rect x="572.30" y="231" width="1.4" height="27" fill="#f23645"/>
<rect x="571.00" y="232" width="4.00" height="15" fill="#f23645"/>
<rect x="577.30" y="211" width="1.4" height="38" fill="#089981"/>
<rect x="576.00" y="218" width="4.00" height="30" fill="#089981"/>
<rect x="583.30" y="211" width="1.4" height="23" fill="#089981"/>
<rect x="582.00" y="220" width="4.00" height="8" fill="#089981"/>
<rect x="589.30" y="216" width="1.4" height="40" fill="#f23645"/>
<rect x="588.00" y="220" width="4.00" height="8" fill="#f23645"/>
<rect x="594.30" y="192" width="1.4" height="48" fill="#089981"/>
<rect x="593.00" y="206" width="4.00" height="22" fill="#089981"/>
<rect x="600.30" y="199" width="1.4" height="43" fill="#f23645"/>
<rect x="599.00" y="206" width="4.00" height="30" fill="#f23645"/>
<rect x="605.30" y="210" width="1.4" height="58" fill="#089981"/>
<rect x="604.00" y="230" width="4.00" height="6" fill="#089981"/>
<rect x="611.30" y="223" width="1.4" height="17" fill="#f23645"/>
<rect x="610.00" y="230" width="4.00" height="9" fill="#f23645"/>
<rect x="616.30" y="230" width="1.4" height="54" fill="#f23645"/>
<rect x="615.00" y="235" width="4.00" height="28" fill="#f23645"/>
<rect x="622.30" y="237" width="1.4" height="27" fill="#089981"/>
<rect x="621.00" y="238" width="4.00" height="25" fill="#089981"/>
<rect x="627.30" y="210" width="1.4" height="41" fill="#089981"/>
<rect x="626.00" y="218" width="4.00" height="20" fill="#089981"/>
<rect x="633.30" y="200" width="1.4" height="30" fill="#089981"/>
<rect x="632.00" y="206" width="4.00" height="12" fill="#089981"/>
<rect x="639.30" y="181" width="1.4" height="28" fill="#089981"/>
<rect x="638.00" y="184" width="4.00" height="22" fill="#089981"/>
<rect x="644.30" y="170" width="1.4" height="16" fill="#089981"/>
<rect x="643.00" y="174" width="4.00" height="12" fill="#089981"/>
<rect x="650.30" y="134" width="1.4" height="110" fill="#f23645"/>
<rect x="649.00" y="150" width="4.00" height="60" fill="#f23645"/>
<rect x="655.30" y="190" width="1.4" height="28" fill="#089981"/>
<rect x="654.00" y="204" width="4.00" height="6" fill="#089981"/>
<rect x="661.30" y="160" width="1.4" height="52" fill="#089981"/>
<rect x="660.00" y="168" width="4.00" height="36" fill="#089981"/>
<rect x="666.30" y="158" width="1.4" height="29" fill="#f23645"/>
<rect x="665.00" y="168" width="4.00" height="19" fill="#f23645"/>
<rect x="672.30" y="166" width="1.4" height="42" fill="#089981"/>
<rect x="671.00" y="173" width="4.00" height="14" fill="#089981"/>
<rect x="678.30" y="164" width="1.4" height="24" fill="#f23645"/>
<rect x="677.00" y="173" width="4.00" height="1" fill="#f23645"/>
<rect x="683.30" y="153" width="1.4" height="47" fill="#f23645"/>
<rect x="682.00" y="192" width="4.00" height="8" fill="#f23645"/>
<rect x="689.30" y="188" width="1.4" height="71" fill="#f23645"/>
<rect x="688.00" y="200" width="4.00" height="39" fill="#f23645"/>
<rect x="694.30" y="207" width="1.4" height="36" fill="#089981"/>
<rect x="693.00" y="230" width="4.00" height="9" fill="#089981"/>
<rect x="700.30" y="230" width="1.4" height="66" fill="#f23645"/>
<rect x="699.00" y="230" width="4.00" height="62" fill="#f23645"/>
<rect x="705.30" y="288" width="1.4" height="68" fill="#f23645"/>
<rect x="704.00" y="291" width="4.00" height="49" fill="#f23645"/>
<rect x="711.30" y="329" width="1.4" height="20" fill="#f23645"/>
<rect x="710.00" y="340" width="4.00" height="3" fill="#f23645"/>
<rect x="716.30" y="337" width="1.4" height="49" fill="#f23645"/>
<rect x="715.00" y="350" width="4.00" height="26" fill="#f23645"/>
<rect x="722.30" y="373" width="1.4" height="71" fill="#f23645"/>
<rect x="721.00" y="376" width="4.00" height="64" fill="#f23645"/>
<rect x="728.30" y="413" width="1.4" height="41" fill="#089981"/>
<rect x="727.00" y="424" width="4.00" height="16" fill="#089981"/>
<rect x="733.30" y="392" width="1.4" height="122" fill="#f23645"/>
<rect x="732.00" y="424" width="4.00" height="10" fill="#f23645"/>
<rect x="739.30" y="421" width="1.4" height="95" fill="#f23645"/>
<rect x="738.00" y="433" width="4.00" height="67" fill="#f23645"/>
<rect x="744.30" y="472" width="1.4" height="52" fill="#089981"/>
<rect x="743.00" y="478" width="4.00" height="22" fill="#089981"/>
<rect x="750.30" y="460" width="1.4" height="50" fill="#f23645"/>
<rect x="749.00" y="488" width="4.00" height="16" fill="#f23645"/>
<rect x="755.30" y="498" width="1.4" height="65" fill="#089981"/>
<rect x="754.00" y="500" width="4.00" height="4" fill="#089981"/>
<rect x="761.30" y="471" width="1.4" height="29" fill="#089981"/>
<rect x="760.00" y="490" width="4.00" height="10" fill="#089981"/>
<rect x="767.30" y="429" width="1.4" height="69" fill="#089981"/>
<rect x="766.00" y="459" width="4.00" height="32" fill="#089981"/>
<rect x="772.30" y="454" width="1.4" height="112" fill="#f23645"/>
<rect x="771.00" y="459" width="4.00" height="64" fill="#f23645"/>
<rect x="778.30" y="510" width="1.4" height="24" fill="#f23645"/>
<rect x="777.00" y="522" width="4.00" height="6" fill="#f23645"/>
<rect x="783.30" y="476" width="1.4" height="69" fill="#089981"/>
<rect x="782.00" y="481" width="4.00" height="55" fill="#089981"/>
<rect x="789.30" y="478" width="1.4" height="43" fill="#f23645"/>
<rect x="788.00" y="480" width="4.00" height="8" fill="#f23645"/>
<rect x="794.30" y="450" width="1.4" height="53" fill="#089981"/>
<rect x="793.00" y="465" width="4.00" height="23" fill="#089981"/>
<rect x="800.30" y="460" width="1.4" height="42" fill="#f23645"/>
<rect x="799.00" y="465" width="4.00" height="27" fill="#f23645"/>
<rect x="805.30" y="490" width="1.4" height="41" fill="#f23645"/>
<rect x="804.00" y="491" width="4.00" height="25" fill="#f23645"/>
<rect x="811.30" y="505" width="1.4" height="33" fill="#f23645"/>
<rect x="810.00" y="515" width="4.00" height="21" fill="#f23645"/>
<rect x="817.30" y="499" width="1.4" height="43" fill="#089981"/>
<rect x="816.00" y="506" width="4.00" height="27" fill="#089981"/>
<rect x="822.30" y="488" width="1.4" height="21" fill="#089981"/>
<rect x="821.00" y="490" width="4.00" height="16" fill="#089981"/>
<rect x="828.30" y="452" width="1.4" height="43" fill="#089981"/>
<rect x="827.00" y="456" width="4.00" height="34" fill="#089981"/>
<rect x="833.30" y="448" width="1.4" height="46" fill="#f23645"/>
<rect x="832.00" y="456" width="4.00" height="33" fill="#f23645"/>
<rect x="839.30" y="471" width="1.4" height="21" fill="#089981"/>
<rect x="838.00" y="482" width="4.00" height="7" fill="#089981"/>
<rect x="844.30" y="473" width="1.4" height="11" fill="#089981"/>
<rect x="843.00" y="479" width="4.00" height="5" fill="#089981"/>
<rect x="850.30" y="458" width="1.4" height="64" fill="#f23645"/>
<rect x="849.00" y="488" width="4.00" height="32" fill="#f23645"/>
<rect x="856.30" y="510" width="1.4" height="40" fill="#f23645"/>
<rect x="855.00" y="520" width="4.00" height="22" fill="#f23645"/>
<rect x="861.30" y="531" width="1.4" height="34" fill="#089981"/>
<rect x="860.00" y="540" width="4.00" height="2" fill="#089981"/>
<rect x="867.30" y="525" width="1.4" height="25" fill="#089981"/>
<rect x="866.00" y="534" width="4.00" height="7" fill="#089981"/>
<rect x="872.30" y="488" width="1.4" height="48" fill="#089981"/>
<rect x="871.00" y="496" width="4.00" height="39" fill="#089981"/>
<rect x="878.30" y="492" width="1.4" height="17" fill="#f23645"/>
<rect x="877.00" y="495" width="4.00" height="2" fill="#f23645"/>
<rect x="883.30" y="489" width="1.4" height="29" fill="#089981"/>
<rect x="882.00" y="490" width="4.00" height="16" fill="#089981"/>
<rect x="889.30" y="471" width="1.4" height="20" fill="#089981"/>
<rect x="888.00" y="488" width="4.00" height="3" fill="#089981"/>
<rect x="894.30" y="485" width="1.4" height="5" fill="#f23645"/>
<rect x="893.00" y="488" width="4.00" height="2" fill="#f23645"/>
<rect x="9.5" y="25.5" width="1005" height="615" fill="none" stroke="#e6e6e6" stroke-width="1"/>
<text x="9.80" y="18.50" font-size="12.6" fill="#2f2f2f" font-weight="normal" text-anchor="start" textLength="67.50" lengthAdjust="spacingAndGlyphs" stroke="#2f2f2f" stroke-width="0.2">angiepanoyan</text>
<text x="81.60" y="18.50" font-size="12.6" fill="#2f2f2f" font-weight="normal" text-anchor="start" textLength="36.80" lengthAdjust="spacingAndGlyphs" stroke="#2f2f2f" stroke-width="0.2">created</text>
<text x="123.40" y="18.50" font-size="12.6" fill="#2f2f2f" font-weight="normal" text-anchor="start" textLength="21.10" lengthAdjust="spacingAndGlyphs" stroke="#2f2f2f" stroke-width="0.2">with</text>
<text x="148.50" y="18.50" font-size="12.6" fill="#2f2f2f" font-weight="normal" text-anchor="start" textLength="86.50" lengthAdjust="spacingAndGlyphs" stroke="#2f2f2f" stroke-width="0.2">TradingView.com,</text>
<text x="240.20" y="18.50" font-size="12.6" fill="#2f2f2f" font-weight="normal" text-anchor="start" textLength="17.60" lengthAdjust="spacingAndGlyphs" stroke="#2f2f2f" stroke-width="0.2">Feb</text>
<text x="262.10" y="18.50" font-size="12.6" fill="#2f2f2f" font-weight="normal" text-anchor="start" textLength="13.70" lengthAdjust="spacingAndGlyphs" stroke="#2f2f2f" stroke-width="0.2">18,</text>
<text x="280.80" y="18.50" font-size="12.6" fill="#2f2f2f" font-weight="normal" text-anchor="start" textLength="22.20" lengthAdjust="spacingAndGlyphs" stroke="#2f2f2f" stroke-width="0.2">2026</text>
<text x="307.00" y="18.50" font-size="12.6" fill="#2f2f2f" font-weight="normal" text-anchor="start" textLength="26.90" lengthAdjust="spacingAndGlyphs" stroke="#2f2f2f" stroke-width="0.2">06:08</text>
<text x="338.60" y="18.50" font-size="12.6" fill="#2f2f2f" font-weight="normal" text-anchor="start" textLength="19.50" lengthAdjust="spacingAndGlyphs" stroke="#2f2f2f" stroke-width="0.2">UTC</text>
<text x="17.60" y="43.80" font-size="11" fill="#131722" font-weight="normal" text-anchor="start" textLength="20.50" lengthAdjust="spacingAndGlyphs" stroke="#131722" stroke-width="0.2">Euro</text>
<text x="44.00" y="43.80" font-size="11" fill="#131722" font-weight="normal" text-anchor="start" textLength="3.30" lengthAdjust="spacingAndGlyphs" stroke="#131722" stroke-width="0.2">/</text>
<text x="52.20" y="43.80" font-size="11" fill="#131722" font-weight="normal" text-anchor="start" textLength="45.10" lengthAdjust="spacingAndGlyphs" stroke="#131722" stroke-width="0.2">Japanese</text>
<text x="99.70" y="43.80" font-size="11" fill="#131722" font-weight="normal" text-anchor="start" textLength="18.10" lengthAdjust="spacingAndGlyphs" stroke="#131722" stroke-width="0.2">Yen</text>
<text x="129.00" y="43.80" font-size="11" fill="#131722" font-weight="normal" text-anchor="start" textLength="11.40" lengthAdjust="spacingAndGlyphs" stroke="#131722" stroke-width="0.2">4h</text>
<text x="152.70" y="43.80" font-size="11" fill="#131722" font-weight="normal" text-anchor="start" textLength="38.30" lengthAdjust="spacingAndGlyphs" stroke="#131722" stroke-width="0.2">Tickmill</text>
<text x="197.50" y="43.80" font-size="11" fill="#131722" font-weight="normal" text-anchor="start" textLength="7.90" lengthAdjust="spacingAndGlyphs" stroke="#131722" stroke-width="0.2">O</text>
<text x="206.30" y="43.80" font-size="11" fill="#f23645" font-weight="normal" text-anchor="start" textLength="37.80" lengthAdjust="spacingAndGlyphs" stroke="#f23645" stroke-width="0.2">181.788</text>
<text x="251.50" y="43.80" font-size="11" fill="#131722" font-weight="normal" text-anchor="start" textLength="6.70" lengthAdjust="spacingAndGlyphs" stroke="#131722" stroke-width="0.2">H</text>
<text x="259.60" y="43.80" font-size="11" fill="#f23645" font-weight="normal" text-anchor="start" textLength="37.80" lengthAdjust="spacingAndGlyphs" stroke="#f23645" stroke-width="0.2">181.826</text>
<text x="304.60" y="43.80" font-size="11" fill="#131722" font-weight="normal" text-anchor="start" textLength="5.10" lengthAdjust="spacingAndGlyphs" stroke="#131722" stroke-width="0.2">L</text>
<text x="310.80" y="43.80" font-size="11" fill="#f23645" font-weight="normal" text-anchor="start" textLength="36.90" lengthAdjust="spacingAndGlyphs" stroke="#f23645" stroke-width="0.2">181.773</text>
<text x="355.90" y="43.80" font-size="11" fill="#131722" font-weight="normal" text-anchor="start" textLength="6.10" lengthAdjust="spacingAndGlyphs" stroke="#131722" stroke-width="0.2">C</text>
<text x="363.00" y="43.80" font-size="11" fill="#f23645" font-weight="normal" text-anchor="start" textLength="38.00" lengthAdjust="spacingAndGlyphs" stroke="#f23645" stroke-width="0.2">181.778</text>
<text x="408.20" y="43.80" font-size="11" fill="#f23645" font-weight="normal" text-anchor="start" textLength="32.80" lengthAdjust="spacingAndGlyphs" stroke="#f23645" stroke-width="0.2">−0.010</text>
<text x="445.00" y="43.80" font-size="11" fill="#f23645" font-weight="normal" text-anchor="start" textLength="41.00" lengthAdjust="spacingAndGlyphs" stroke="#f23645" stroke-width="0.2">(−0.01%)</text>
<circle cx="123.7" cy="40.3" r="0.75" fill="#131722"/>
<circle cx="146.2" cy="40.3" r="0.75" fill="#131722"/>
<text x="17.60" y="59.30" font-size="11" fill="#131722" font-weight="normal" text-anchor="start" textLength="14.10" lengthAdjust="spacingAndGlyphs" stroke="#131722" stroke-width="0.2">Vol</text>
<text x="39.50" y="59.30" font-size="11" fill="#f23645" font-weight="normal" text-anchor="start" textLength="28.90" lengthAdjust="spacingAndGlyphs" stroke="#f23645" stroke-width="0.2">1.11 K</text>
<text x="962.50" y="38.50" font-size="11" fill="#131722" font-weight="normal" text-anchor="start" textLength="38.70" lengthAdjust="spacingAndGlyphs" stroke="#131722" stroke-width="0.2">187.500</text>
<text x="962.50" y="77.50" font-size="11" fill="#131722" font-weight="normal" text-anchor="start" textLength="38.70" lengthAdjust="spacingAndGlyphs" stroke="#131722" stroke-width="0.2">187.000</text>
<text x="962.50" y="117.50" font-size="11" fill="#131722" font-weight="normal" text-anchor="start" textLength="38.70" lengthAdjust="spacingAndGlyphs" stroke="#131722" stroke-width="0.2">186.500</text>
<text x="962.50" y="157.50" font-size="11" fill="#131722" font-weight="normal" text-anchor="start" textLength="38.70" lengthAdjust="spacingAndGlyphs" stroke="#131722" stroke-width="0.2">186.000</text>
<text x="962.50" y="197.50" font-size="11" fill="#131722" font-weight="normal" text-anchor="start" textLength="38.70" lengthAdjust="spacingAndGlyphs" stroke="#131722" stroke-width="0.2">185.500</text>
<text x="962.50" y="237.50" font-size="11" fill="#131722" font-weight="normal" text-anchor="start" textLength="38.70" lengthAdjust="spacingAndGlyphs" stroke="#131722" stroke-width="0.2">185.000</text>
<text x="962.50" y="277.50" font-size="11" fill="#131722" font-weight="normal" text-anchor="start" textLength="38.70" lengthAdjust="spacingAndGlyphs" stroke="#131722" stroke-width="0.2">184.500</text>
<text x="962.50" y="316.50" font-size="11" fill="#131722" font-weight="normal" text-anchor="start" textLength="38.70" lengthAdjust="spacingAndGlyphs" stroke="#131722" stroke-width="0.2">184.000</text>
<text x="962.50" y="356.50" font-size="11" fill="#131722" font-weight="normal" text-anchor="start" textLength="38.70" lengthAdjust="spacingAndGlyphs" stroke="#131722" stroke-width="0.2">183.500</text>
<text x="962.50" y="396.50" font-size="11" fill="#131722" font-weight="normal" text-anchor="start" textLength="38.70" lengthAdjust="spacingAndGlyphs" stroke="#131722" stroke-width="0.2">183.000</text>
<text x="962.50" y="436.50" font-size="11" fill="#131722" font-weight="normal" text-anchor="start" textLength="38.70" lengthAdjust="spacingAndGlyphs" stroke="#131722" stroke-width="0.2">182.500</text>
<text x="962.50" y="476.50" font-size="11" fill="#131722" font-weight="normal" text-anchor="start" textLength="38.70" lengthAdjust="spacingAndGlyphs" stroke="#131722" stroke-width="0.2">182.000</text>
<text x="962.50" y="516.50" font-size="11" fill="#131722" font-weight="normal" text-anchor="start" textLength="38.70" lengthAdjust="spacingAndGlyphs" stroke="#131722" stroke-width="0.2">181.500</text>
<text x="962.50" y="555.50" font-size="11" fill="#131722" font-weight="normal" text-anchor="start" textLength="38.70" lengthAdjust="spacingAndGlyphs" stroke="#131722" stroke-width="0.2">181.000</text>
<text x="962.50" y="595.50" font-size="11" fill="#131722" font-weight="normal" text-anchor="start" textLength="38.70" lengthAdjust="spacingAndGlyphs" stroke="#131722" stroke-width="0.2">180.500</text>
<text x="55.00" y="631.40" font-size="11" fill="#131722" font-weight="normal" text-anchor="middle" stroke="#131722" stroke-width="0.2">14</text>
<text x="122.00" y="631.40" font-size="11" fill="#131722" font-weight="normal" text-anchor="middle" stroke="#131722" stroke-width="0.2">16</text>
<text x="189.00" y="631.40" font-size="11" fill="#131722" font-weight="normal" text-anchor="middle" stroke="#131722" stroke-width="0.2">20</text>
<text x="256.00" y="631.40" font-size="11" fill="#131722" font-weight="normal" text-anchor="middle" stroke="#131722" stroke-width="0.2">22</text>
<text x="317.00" y="631.40" font-size="11" fill="#131722" font-weight="normal" text-anchor="middle" stroke="#131722" stroke-width="0.2">25</text>
<text x="389.00" y="631.40" font-size="11" fill="#131722" font-weight="normal" text-anchor="middle" stroke="#131722" stroke-width="0.2">28</text>
<text x="474.70" y="631.40" font-size="11" fill="#131722" font-weight="bold" text-anchor="start" textLength="17.50" lengthAdjust="spacingAndGlyphs" stroke="#131722" stroke-width="0.2">Feb</text>
<text x="556.00" y="631.40" font-size="11" fill="#131722" font-weight="normal" text-anchor="middle" stroke="#131722" stroke-width="0.2">4</text>
<text x="623.00" y="631.40" font-size="11" fill="#131722" font-weight="normal" text-anchor="middle" stroke="#131722" stroke-width="0.2">6</text>
<text x="690.00" y="631.40" font-size="11" fill="#131722" font-weight="normal" text-anchor="middle" stroke="#131722" stroke-width="0.2">10</text>
<text x="756.00" y="631.40" font-size="11" fill="#131722" font-weight="normal" text-anchor="middle" stroke="#131722" stroke-width="0.2">12</text>
<text x="818.00" y="631.40" font-size="11" fill="#131722" font-weight="normal" text-anchor="middle" stroke="#131722" stroke-width="0.2">15</text>
<text x="890.00" y="631.40" font-size="11" fill="#131722" font-weight="normal" text-anchor="middle" stroke="#131722" stroke-width="0.2">18</text>
<path d="M954 481.3 H1008.4 a2 2 0 0 1 2 2 V508 a2 2 0 0 1 -2 2 H954 Z" fill="#f23645"/>
<text x="963.10" y="493.20" font-size="11" fill="#fff" font-weight="normal" text-anchor="start" textLength="38.50" lengthAdjust="spacingAndGlyphs" stroke="#fff" stroke-width="0.2">181.778</text>
<text x="962.60" y="506.80" font-size="11" fill="#fff" font-weight="normal" text-anchor="start" textLength="43.30" lengthAdjust="spacingAndGlyphs" fill-opacity="0.85" stroke-opacity="0.85" stroke="#fff" stroke-width="0.2">03:51:45</text>
<path d="M954.2 599.1 H994.8 a2 2 0 0 1 2 2 V612.1 a2 2 0 0 1 -2 2 H954.2 Z" fill="#ef5350"/>
<text x="962.90" y="610.50" font-size="11" fill="#fff" font-weight="normal" text-anchor="start" textLength="30.10" lengthAdjust="spacingAndGlyphs" stroke="#fff" stroke-width="0.2">1.11 K</text>
<circle cx="895.3" cy="602" r="9.1" fill="#fff" stroke="#9c27b0" stroke-width="1.4"/>
<path d="M898.2 597.6 L892.4 602.3 L898.6 601.9 L892.9 606.5" fill="none" stroke="#9c27b0" stroke-width="1.7" stroke-linejoin="round" stroke-linecap="round"/>
<g transform="translate(11.3 657.7) scale(0.78)"><path d="M14 22H7V11H0V4h14v18ZM28 22h-8l7.5-18h8L28 22Z" fill="#131722"/><circle cx="20" cy="8" r="4" fill="#131722"/></g>
<text x="46.50" y="674.90" font-size="19.5" fill="#131722" font-weight="bold" text-anchor="start" textLength="111.00" lengthAdjust="spacingAndGlyphs">TradingView</text>
</svg>
</body></html>
